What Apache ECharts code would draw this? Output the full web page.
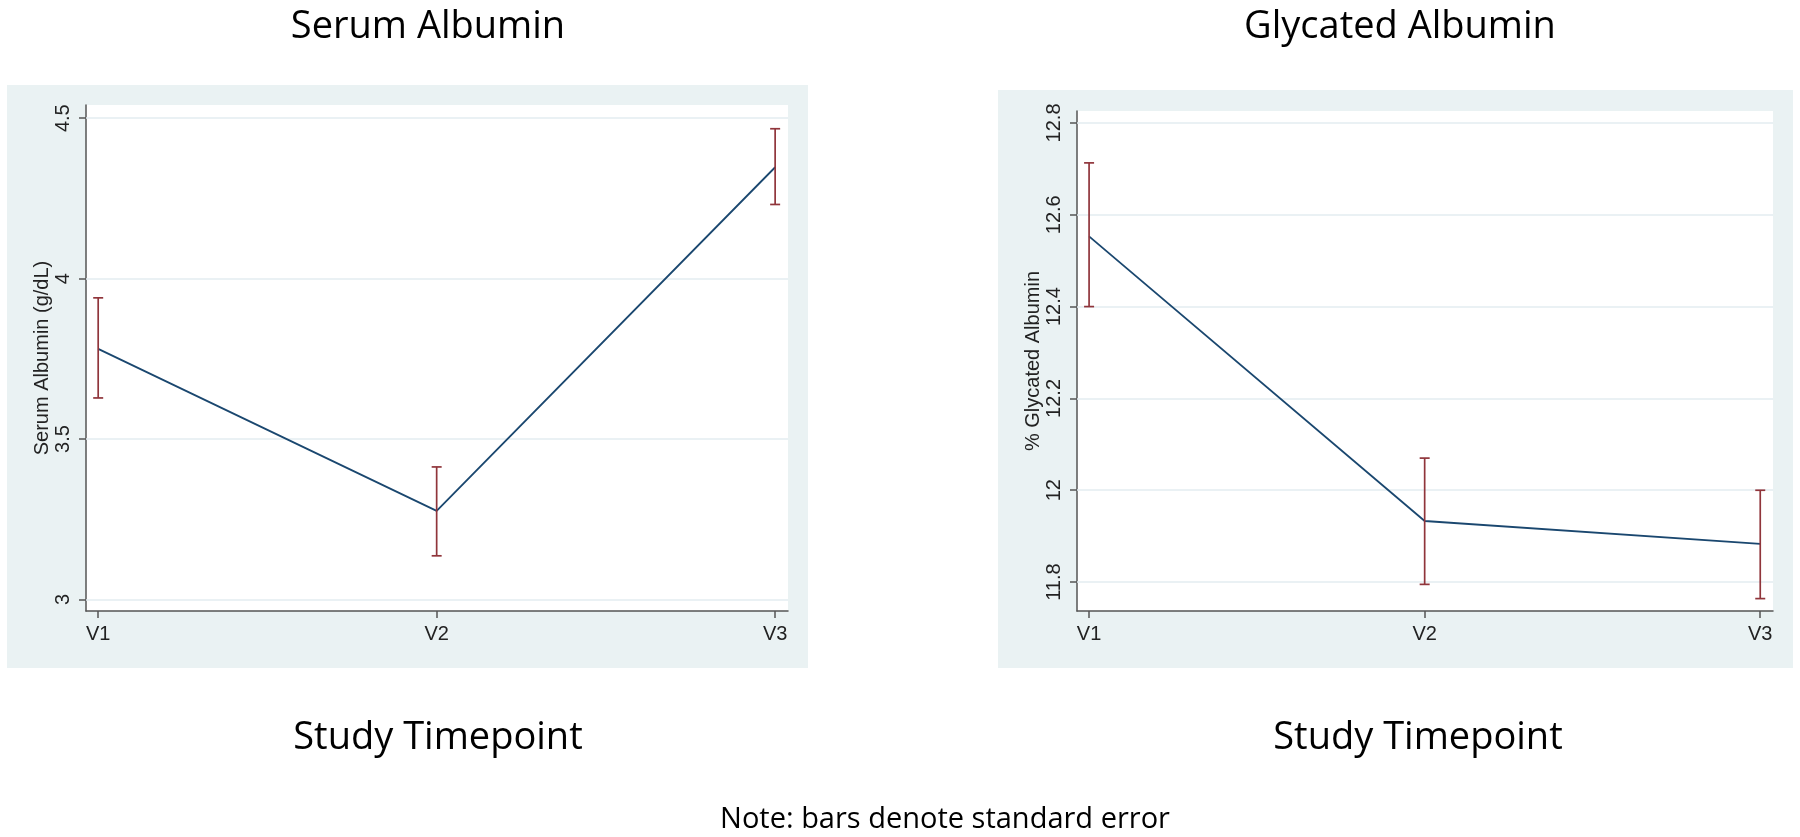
<!DOCTYPE html>
<html>
<head>
<meta charset="utf-8">
<script src="https://cdn.jsdelivr.net/npm/echarts@6/dist/echarts.min.js"></script>
<style>
  html, body { margin: 0; padding: 0; background: #fff; }
  #chart { width: 1800px; height: 837px; }
</style>
</head>
<body>
<div id="chart"></div>
<script>
var categories = ['V1', 'V2', 'V3'];
var catPos = [1, 2, 3];

// Serum albumin (g/dL): mean and SE bar ends
var serumMean = [3.781, 3.276, 4.347];
var serumUpper = [3.940, 3.413, 4.467];
var serumLower = [3.628, 3.136, 4.231];
var serumTicks = [3, 3.5, 4, 4.5];

// % glycated albumin
var glyMean = [12.553, 11.933, 11.883];
var glyUpper = [12.713, 12.070, 12.000];
var glyLower = [12.400, 11.795, 11.764];
var glyTicks = [11.8, 12, 12.2, 12.4, 12.6, 12.8];

var chartDom = document.getElementById('chart');
var myChart = echarts.init(chartDom);

var AXIS_COLOR = '#555';
var TEXT_COLOR = '#222';
var GRID_COLOR = '#e3edf1';
var LINE_COLOR = '#1a476f';
var BAR_COLOR = '#90353b';
var PANEL_COLOR = '#eaf2f3';
var axisFont = 'Liberation Sans, Arial, sans-serif';
var titleFont = 'Open Sans, sans-serif';

function pairs(xs, ys) {
    return xs.map(function (x, i) { return [x, ys[i]]; });
}

function errData(lower, upper) {
    return catPos.map(function (x, i) { return [x, lower[i], upper[i]]; });
}

function renderErr(params, api) {
    var x = api.value(0);
    var lo = api.coord([x, api.value(1)]);
    var hi = api.coord([x, api.value(2)]);
    var w = 5;
    var style = { stroke: BAR_COLOR, lineWidth: 1.7 };
    return {
        type: 'group',
        children: [
            { type: 'line', shape: { x1: lo[0], y1: lo[1], x2: hi[0], y2: hi[1] }, style: style },
            { type: 'line', shape: { x1: hi[0] - w, y1: hi[1], x2: hi[0] + w, y2: hi[1] }, style: style },
            { type: 'line', shape: { x1: lo[0] - w, y1: lo[1], x2: lo[0] + w, y2: lo[1] }, style: style }
        ]
    };
}

function xAxis(gridIndex) {
    return {
        type: 'value',
        gridIndex: gridIndex,
        min: 0.964,
        max: 3.038,
        splitLine: { show: false },
        axisLine: { lineStyle: { color: AXIS_COLOR, width: 1.5 } },
        axisTick: { customValues: catPos, length: 7, lineStyle: { color: AXIS_COLOR, width: 1.5 } },
        axisLabel: {
            customValues: catPos,
            formatter: function (v) { return categories[Math.round(v) - 1]; },
            color: TEXT_COLOR, fontFamily: axisFont, fontSize: 20, margin: 13
        }
    };
}

function yAxis(gridIndex, min, max, ticks, name) {
    return {
        type: 'value',
        gridIndex: gridIndex,
        min: min,
        max: max,
        name: name,
        nameLocation: 'middle',
        nameRotate: 90,
        nameGap: 33,
        nameTextStyle: { color: TEXT_COLOR, fontFamily: axisFont, fontSize: 20 },
        splitLine: { show: false },
        axisLine: { show: true, lineStyle: { color: AXIS_COLOR, width: 1.5 } },
        axisTick: { show: true, customValues: ticks, length: 7, lineStyle: { color: AXIS_COLOR, width: 1.5 } },
        axisLabel: {
            customValues: ticks,
            rotate: 90,
            color: TEXT_COLOR, fontFamily: axisFont, fontSize: 20, margin: 13
        }
    };
}

function gridLines(ticks) {
    return {
        silent: true,
        z: 1,
        symbol: 'none',
        label: { show: false },
        lineStyle: { color: GRID_COLOR, width: 1.5, type: 'solid' },
        data: ticks.map(function (t) { return { yAxis: t }; })
    };
}

function text(str, x, y, size) {
    return {
        type: 'text', x: x, y: y, z: 10,
        style: {
            text: str, fill: '#000', font: size + 'px ' + titleFont,
            align: 'center', verticalAlign: 'middle'
        }
    };
}

var option = {
    animation: false,
    graphic: [
        { type: 'rect', z: -2, shape: { x: 7, y: 85, width: 801, height: 583 }, style: { fill: PANEL_COLOR } },
        { type: 'rect', z: -2, shape: { x: 998, y: 90, width: 795, height: 578 }, style: { fill: PANEL_COLOR } },
        { type: 'rect', z: -1, shape: { x: 86, y: 105, width: 702, height: 506 }, style: { fill: '#fff' } },
        { type: 'rect', z: -1, shape: { x: 1077, y: 111, width: 696, height: 500 }, style: { fill: '#fff' } },
        text('Serum Albumin', 428, 27, 38),
        text('Glycated Albumin', 1400, 27, 38),
        text('Study Timepoint', 438, 738, 38),
        text('Study Timepoint', 1418, 738, 38),
        text('Note: bars denote standard error', 945, 820, 29)
    ],
    grid: [
        { left: 86, top: 105, width: 702, height: 506 },
        { left: 1077, top: 111, width: 696, height: 500 }
    ],
    xAxis: [xAxis(0), xAxis(1)],
    yAxis: [
        yAxis(0, 2.964, 4.541, serumTicks, 'Serum Albumin (g/dL)'),
        yAxis(1, 11.737, 12.826, glyTicks, '% Glycated Albumin')
    ],
    series: [
        {
            type: 'line', xAxisIndex: 0, yAxisIndex: 0,
            data: pairs(catPos, serumMean),
            symbol: 'none',
            lineStyle: { color: LINE_COLOR, width: 1.8 },
            markLine: gridLines(serumTicks),
            z: 3
        },
        {
            type: 'custom', xAxisIndex: 0, yAxisIndex: 0,
            data: errData(serumLower, serumUpper),
            renderItem: renderErr,
            z: 4
        },
        {
            type: 'line', xAxisIndex: 1, yAxisIndex: 1,
            data: pairs(catPos, glyMean),
            symbol: 'none',
            lineStyle: { color: LINE_COLOR, width: 1.8 },
            markLine: gridLines(glyTicks),
            z: 3
        },
        {
            type: 'custom', xAxisIndex: 1, yAxisIndex: 1,
            data: errData(glyLower, glyUpper),
            renderItem: renderErr,
            z: 4
        }
    ]
};

myChart.setOption(option);
</script>
</body>
</html>
